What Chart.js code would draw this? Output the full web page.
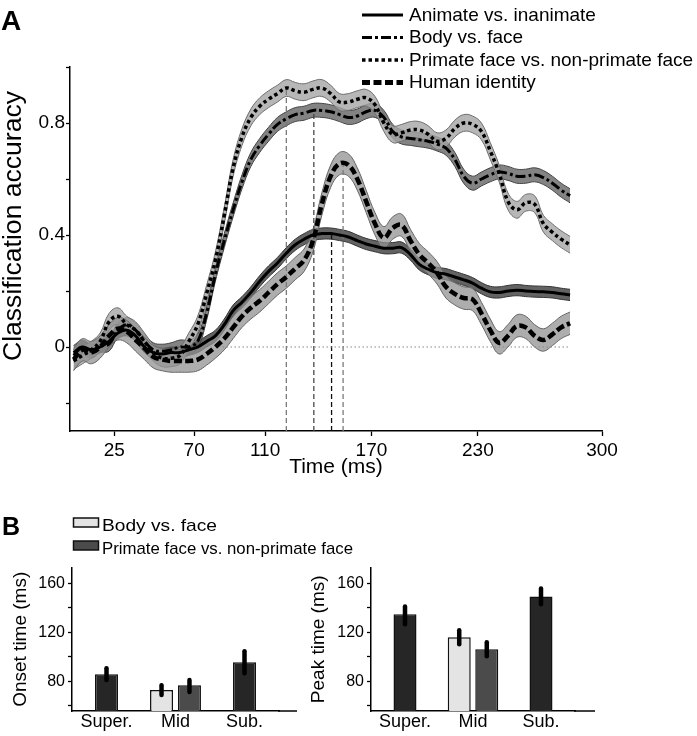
<!DOCTYPE html>
<html>
<head>
<meta charset="utf-8">
<script src="https://cdn.jsdelivr.net/npm/chart.js@4.4.1/dist/chart.umd.min.js"></script>
<style>
  body { margin: 0; background: #fff; }
  #page { position: relative; width: 697px; height: 736px; overflow: hidden; font-family: 'Liberation Sans', Arial, sans-serif; }
  .box { position: absolute; }
  #overlay { position: absolute; left: 0; top: 0; pointer-events: none; }
</style>
</head>
<body>
<div id="page">
  <div class="box" style="left:0;top:0;width:697px;height:480px"><canvas id="timeChart" width="697" height="480"></canvas></div>
  <div class="box" style="left:0;top:555px;width:350px;height:181px"><canvas id="onsetChart" width="350" height="181"></canvas></div>
  <div class="box" style="left:300px;top:555px;width:397px;height:181px"><canvas id="peakChart" width="397" height="181"></canvas></div>
  <svg id="overlay" width="697" height="736"></svg>
</div>
<script>
// --- panel A data (time in ms, classification accuracy) ---
const times = [2, 7, 12, 17, 22, 27, 32, 37, 42, 47, 52, 57, 62, 67, 72, 77, 82, 87, 92, 97,
  102, 107, 112, 117, 122, 127, 132, 137, 142, 147, 152, 157, 162, 167, 172, 177, 182, 187, 192, 197,
  202, 207, 212, 217, 222, 227, 232, 237, 242, 247, 252, 257, 262, 267, 272, 277, 282];

const animate = [-0.03, 0.0, -0.01, 0.0, 0.02, 0.05, 0.06, 0.04, 0.0, -0.02, -0.025, -0.02, -0.02, -0.01, 0.0, 0.02, 0.04, 0.08, 0.13, 0.16,
  0.195, 0.235, 0.27, 0.3, 0.335, 0.365, 0.385, 0.4, 0.405, 0.405, 0.4, 0.393, 0.38, 0.368, 0.36, 0.353, 0.353, 0.355, 0.33, 0.295,
  0.278, 0.265, 0.26, 0.25, 0.24, 0.228, 0.21, 0.197, 0.195, 0.2, 0.203, 0.2, 0.198, 0.197, 0.195, 0.19, 0.186];

const body = [-0.02, 0.0, -0.015, 0.005, 0.01, 0.06, 0.08, 0.06, 0.02, -0.01, -0.015, -0.01, 0.0, 0.0, 0.02, 0.12, 0.26, 0.38, 0.49, 0.59,
  0.67, 0.72, 0.76, 0.795, 0.815, 0.83, 0.835, 0.845, 0.845, 0.84, 0.83, 0.82, 0.825, 0.84, 0.845, 0.82, 0.77, 0.75, 0.745, 0.74,
  0.735, 0.725, 0.71, 0.67, 0.61, 0.585, 0.6, 0.615, 0.625, 0.62, 0.61, 0.61, 0.615, 0.605, 0.585, 0.56, 0.54];

const primate = [-0.05, -0.03, -0.01, 0.02, 0.09, 0.11, 0.08, 0.06, 0.02, -0.02, -0.04, -0.04, -0.03, 0.02, 0.08, 0.19, 0.31, 0.47, 0.64, 0.75,
  0.82, 0.86, 0.885, 0.905, 0.925, 0.915, 0.91, 0.92, 0.925, 0.905, 0.875, 0.875, 0.885, 0.89, 0.865, 0.8, 0.76, 0.765, 0.775, 0.775,
  0.76, 0.735, 0.745, 0.78, 0.8, 0.795, 0.77, 0.7, 0.62, 0.52, 0.49, 0.515, 0.51, 0.44, 0.41, 0.385, 0.365];

const human = [-0.045, -0.01, -0.02, 0.0, 0.04, 0.065, 0.055, 0.025, -0.005, -0.035, -0.045, -0.05, -0.05, -0.05, -0.045, -0.025, 0.0, 0.03, 0.07, 0.11,
  0.14, 0.165, 0.195, 0.225, 0.25, 0.28, 0.31, 0.38, 0.51, 0.61, 0.655, 0.65, 0.6, 0.52, 0.44, 0.39, 0.425, 0.435, 0.38, 0.33,
  0.3, 0.265, 0.215, 0.19, 0.175, 0.17, 0.12, 0.06, 0.015, 0.04, 0.075, 0.07, 0.04, 0.025, 0.045, 0.07, 0.085];

// half width of the shaded band round each curve
const animateSem = 0.02;
const bodySem = 0.025;
const primateSem = 0.03;
const humanSem = 0.04;

const seriesNames = ['Animate vs. inanimate', 'Body vs. face', 'Primate face vs. non-primate face', 'Human identity'];

// peak latency markers (vertical dashed lines)
const peakTimes = [122, 137.5, 147.5, 154];
const peakValues = [0.925, 0.845, 0.4, 0.655];
const chanceSpan = [86, 282];

const xTicks = [25, 70, 110, 170, 230, 300];
const yTicks = [-0.2, 0, 0.2, 0.4, 0.6, 0.8, 1.0];
const yTickLabels = ['', '0', '', '0.4', '', '0.8', ''];

// --- panel B data ---
const groupLabels = ['Super.', 'Mid', 'Sub.'];
const onsetAnimate = [85.7, null, null];
const onsetBody = [null, 72.7, null];
const onsetPrimate = [null, 76.7, null];
const onsetHuman = [null, null, 95.5];
const onsetLow = [[80.8, null, null], [null, 68.6, null], [null, 71, null], [null, null, 86.5]];
const onsetHigh = [[90.6, null, null], [null, 76.7, null], [null, 80.8, null], [null, null, 104.5]];

const peakAnimate = [134.7, null, null];
const peakBody = [null, 115.9, null];
const peakPrimate = [null, 106.1, null];
const peakHuman = [null, null, 149.4];
const peakLow = [[126.5, null, null], [null, 110.2, null], [null, 100.4, null], [null, null, 142.9]];
const peakHigh = [[141.2, null, null], [null, 121.6, null], [null, 111.8, null], [null, null, 155.9]];

const barTicks = [60, 80, 100, 120, 140, 160];
const barTickLabels = ['', '80', '', '120', '', '160'];

// --- styles ---
Chart.defaults.font.family = "'Liberation Sans', Arial, sans-serif";
Chart.defaults.color = '#000';

const lineDash = [[], [10, 3, 3, 3], [3.5, 3], [8, 3.5]];
const lineWidth = [3, 3, 3.5, 4.5];
const bandFill = ['rgba(60,60,60,0.8)', 'rgba(90,90,90,0.75)', 'rgba(165,165,165,0.8)', 'rgba(145,145,145,0.75)'];
const bandEdge = ['#333', '#444', '#6e6e6e', '#666'];
const peakColors = ['#7a7a7a', '#4a4a4a', '#111', '#7a7a7a'];
const barFill = ['#262626', '#e4e4e4', '#4b4b4c', '#262626'];

const yMin = -0.3;
const series = [animate, body, primate, human];
const sems = [animateSem, bodySem, primateSem, humanSem];

function points(vals, shift) {
  return times.map((t, i) => ({ x: t, y: vals[i] + shift }));
}

const datasets = [];
series.forEach((vals, k) => {
  datasets.push({
    data: points(vals, sems[k]), borderColor: bandEdge[k], borderWidth: 1,
    backgroundColor: bandFill[k], fill: '+1', pointRadius: 0, tension: 0.4, order: 40 - k * 2
  });
  datasets.push({
    data: points(vals, -sems[k]), borderColor: bandEdge[k], borderWidth: 1,
    fill: false, pointRadius: 0, tension: 0.4, order: 39 - k * 2
  });
});
peakTimes.forEach((t, k) => {
  datasets.push({
    data: [{ x: t, y: yMin }, { x: t, y: peakValues[k] }], borderColor: peakColors[k],
    borderWidth: 1.3, borderDash: [5, 3], pointRadius: 0, fill: false, order: 20
  });
});
datasets.push({
  data: [{ x: chanceSpan[0], y: 0 }, { x: chanceSpan[1], y: 0 }], borderColor: '#888',
  borderWidth: 1.2, borderDash: [1.5, 2.5], pointRadius: 0, fill: false, order: 19
});
series.forEach((vals, k) => {
  datasets.push({
    label: seriesNames[k], data: points(vals, 0), borderColor: '#000', borderWidth: lineWidth[k],
    borderDash: lineDash[k], pointRadius: 0, tension: 0.4, fill: false, order: 10 - k
  });
});

function labelFrom(list, labels) {
  return function (v) {
    const i = list.findIndex(t => Math.abs(t - v) < 1e-9);
    return i >= 0 ? labels[i] : '';
  };
}

new Chart(document.getElementById('timeChart'), {
  type: 'line',
  data: { datasets: datasets },
  options: {
    responsive: false, animation: false, devicePixelRatio: 1,
    layout: { autoPadding: false, padding: { top: 67, right: 95, bottom: 0, left: 0 } },
    plugins: { legend: { display: false }, tooltip: { enabled: false } },
    scales: {
      x: {
        type: 'linear', min: 0, max: 300,
        afterBuildTicks: s => { s.ticks = xTicks.map(v => ({ value: v })); },
        afterFit: s => { s.height = 49; },
        grid: { drawOnChartArea: false, drawTicks: true, tickLength: 5, tickColor: '#000', tickWidth: 1.3 },
        border: { display: true, color: '#000', width: 1.5 },
        ticks: { font: { size: 19 }, padding: 3, maxRotation: 0 },
        title: { display: true, text: 'Time (ms)', font: { size: 21 }, padding: 0 }
      },
      y: {
        type: 'linear', min: yMin, max: 1.0,
        afterBuildTicks: s => { s.ticks = yTicks.map(v => ({ value: v })); },
        afterFit: s => { s.width = 70; },
        grid: { drawOnChartArea: false, drawTicks: true, tickLength: 4, tickColor: '#000', tickWidth: 1.3 },
        border: { display: true, color: '#000', width: 1.5 },
        ticks: { font: { size: 19 }, padding: 1, callback: labelFrom(yTicks, yTickLabels) }
      }
    }
  }
});

// --- bar charts ---
const errorBars = {
  id: 'errorBars',
  afterDatasetsDraw(chart) {
    const ctx = chart.ctx;
    const yScale = chart.scales.y;
    chart.data.datasets.forEach((ds, i) => {
      const meta = chart.getDatasetMeta(i);
      meta.data.forEach((bar, j) => {
        if (ds.data[j] == null) return;
        ctx.save();
        ctx.strokeStyle = '#000';
        ctx.lineWidth = 4.5;
        ctx.lineCap = 'round';
        ctx.beginPath();
        ctx.moveTo(bar.x, yScale.getPixelForValue(ds.errLow[j]));
        ctx.lineTo(bar.x, yScale.getPixelForValue(ds.errHigh[j]));
        ctx.stroke();
        ctx.restore();
      });
    });
  }
};

const axisExtend = {
  id: 'axisExtend',
  afterDraw(chart, args, opts) {
    const ctx = chart.ctx;
    const y = chart.scales.x.top;
    ctx.save();
    ctx.strokeStyle = '#000';
    ctx.lineWidth = 1.5;
    ctx.beginPath();
    ctx.moveTo(chart.chartArea.right - 1, y);
    ctx.lineTo(chart.chartArea.right + opts.length, y);
    ctx.stroke();
    ctx.restore();
  }
};

function barChart(id, values, lows, highs, title, yWidth, padRight, extend, titlePad) {
  return new Chart(document.getElementById(id), {
    type: 'bar',
    data: {
      labels: groupLabels,
      datasets: values.map((v, k) => ({
        label: seriesNames[k], data: v, errLow: lows[k], errHigh: highs[k],
        backgroundColor: barFill[k], borderColor: '#111', borderWidth: 1.5,
        skipNull: true, categoryPercentage: 0.81, barPercentage: 1, maxBarThickness: 23
      }))
    },
    options: {
      responsive: false, animation: false, devicePixelRatio: 1,
      layout: { autoPadding: false, padding: { top: 12, right: padRight, bottom: 0, left: 0 } },
      plugins: { legend: { display: false }, tooltip: { enabled: false }, axisExtend: { length: extend } },
      scales: {
        x: {
          afterFit: s => { s.height = 25; },
          grid: { display: false, drawTicks: false },
          border: { display: true, color: '#000', width: 1.5 },
          ticks: { font: { size: 18 }, padding: 0 }
        },
        y: {
          min: 55.5, max: 173,
          afterBuildTicks: s => { s.ticks = barTicks.map(v => ({ value: v })); },
          afterFit: s => { s.width = yWidth; },
          grid: { drawOnChartArea: false, drawTicks: true, tickLength: 4, tickColor: '#000', tickWidth: 1.3 },
          border: { display: true, color: '#000', width: 1.5 },
          ticks: { font: { size: 16 }, padding: 3, callback: labelFrom(barTicks, barTickLabels) },
          title: { display: true, text: title, font: { size: 19 }, padding: { top: titlePad, bottom: 0 } }
        }
      }
    },
    plugins: [errorBars, axisExtend]
  });
}

barChart('onsetChart', [onsetAnimate, onsetBody, onsetPrimate, onsetHuman], onsetLow, onsetHigh,
  'Onset time (ms)', 72, 71, 18, 9.5);
barChart('peakChart', [peakAnimate, peakBody, peakPrimate, peakHuman], peakLow, peakHigh,
  'Peak time (ms)', 71, 122, 20, 7.6);

// --- overlay text: panel letters, legends, y title of panel A ---
const svg = document.getElementById('overlay');
const NS = 'http://www.w3.org/2000/svg';
function add(tag, attrs, text) {
  const el = document.createElementNS(NS, tag);
  Object.keys(attrs).forEach(k => el.setAttribute(k, attrs[k]));
  if (text) el.textContent = text;
  svg.appendChild(el);
  return el;
}
const fam = "'Liberation Sans', Arial, sans-serif";

add('text', { x: 1, y: 30, 'font-family': fam, 'font-size': 28, 'font-weight': 'bold' }, 'A');
add('text', { x: 2, y: 535, 'font-family': fam, 'font-size': 25, 'font-weight': 'bold' }, 'B');
add('text', { transform: 'translate(21,226) rotate(-90)', 'text-anchor': 'middle', 'font-family': fam,
  'font-size': 26, textLength: 270, lengthAdjust: 'spacingAndGlyphs' }, 'Classification accuracy');

seriesNames.forEach((name, k) => {
  const y = 15 + k * 22.5;
  add('line', { x1: 362, x2: 403, y1: y, y2: y, stroke: '#000', 'stroke-width': lineWidth[k] + (k === 3 ? 0.5 : 0),
    'stroke-dasharray': lineDash[k].length ? lineDash[k].join(' ') : 'none' });
  add('text', { x: 409, y: y + 5.8, 'font-family': fam, 'font-size': 19 }, name);
});

const barLegend = [[1, 115], [2, 251]];
barLegend.forEach(([k, len], r) => {
  const y = 518 + r * 23;
  add('rect', { x: 73.5, y: y, width: 25, height: 9, fill: barFill[k], stroke: '#111', 'stroke-width': 1.5 });
  add('text', { x: 102, y: y + 13, 'font-family': fam, 'font-size': 17, textLength: len,
    lengthAdjust: 'spacingAndGlyphs' }, seriesNames[k]);
});
</script>
</body>
</html>
